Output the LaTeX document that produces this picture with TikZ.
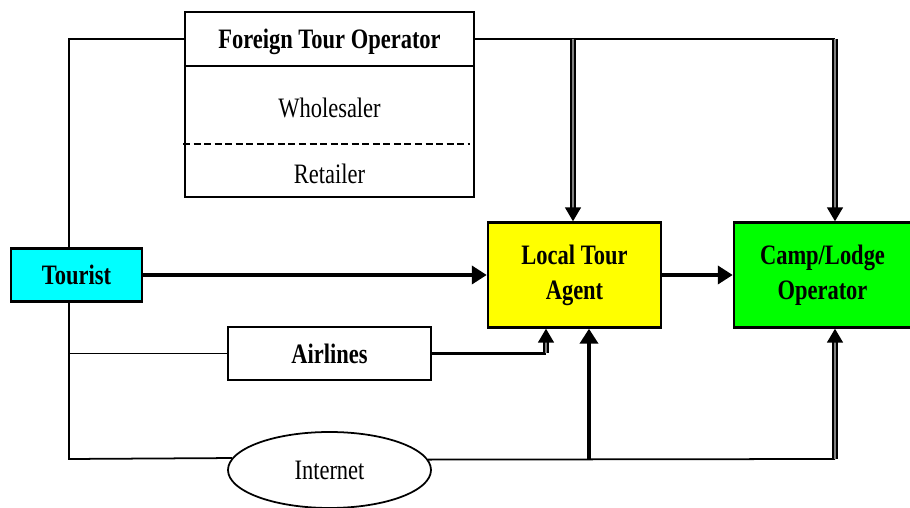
\documentclass[tikz,border=0pt]{standalone}
\usepackage{fontspec}
\setmainfont{Liberation Serif}[FakeStretch=0.8]
\usetikzlibrary{arrows.meta,shapes.geometric}
\definecolor{touristcyan}{RGB}{0,255,255}
\definecolor{agentyellow}{RGB}{255,255,0}
\definecolor{campgreen}{RGB}{0,255,0}
\tikzset{
  box/.style={draw, line width=1.4pt, align=center, inner sep=0pt,
    font=\bfseries\fontsize{16}{20}\selectfont},
  wire/.style={line width=1pt},
  flow/.style={line width=2.2pt, -{Triangle[length=0.3cm,width=0.36cm]}},
  feed/.style={line width=1pt, double=gray, double distance=1.3pt,
    -{Triangle[length=0.28cm,width=0.32cm]}},
}
\begin{document}
\begin{tikzpicture}[font=\fontsize{16}{20}\selectfont]
  \useasboundingbox (0,0) rectangle (18.2,10.16);

  \node (fto)     [box, minimum width=5.78cm, minimum height=3.70cm] at (6.59,8.07) {};
  \node (ftotext) [font=\bfseries\fontsize{16}{20}\selectfont] at (6.59,9.32) {Foreign Tour Operator};
  \node (whole)   at (6.59,8.00) {Wholesaler};
  \node (retail)  at (6.59,6.68) {Retailer};
  \node (tourist) [box, fill=touristcyan, minimum width=2.62cm, minimum height=1.06cm] at (1.53,4.66) {Tourist};
  \node (lta)     [box, fill=agentyellow, minimum width=3.46cm, minimum height=2.10cm] at (11.49,4.66) {Local Tour\\Agent};
  \node (camp)    [box, fill=campgreen, minimum width=3.54cm, minimum height=2.10cm] at (16.45,4.66) {Camp/Lodge\\Operator};
  \node (air)     [box, line width=1pt, minimum width=4.06cm, minimum height=1.06cm] at (6.59,3.09) {Airlines};
  \node (net)     [draw, ellipse, line width=1pt, minimum width=4.06cm, minimum height=1.52cm, inner sep=0pt] at (6.59,0.76) {Internet};

  \coordinate (tl) at (1.38,9.38);
  \coordinate (bl) at (1.38,0.98);
  \coordinate (ta) at (11.46,9.38);
  \coordinate (tr) at (16.70,9.38);
  \coordinate (bm) at (11.78,0.98);
  \coordinate (br) at (16.70,0.98);
  \coordinate (ak) at (10.92,3.09);

  % inside the foreign tour operator
  \draw [wire] (fto.west |- 0,8.84) -- (fto.east |- 0,8.84);
  \draw [line width=1.6pt, dash pattern=on 4pt off 2pt] (3.66,7.28) -- (9.40,7.28);

  % left bus
  \draw [wire] (fto.west |- tl) -- (tl) -- (tl |- tourist.north);
  \draw [wire] (tl |- tourist.south) -- (bl) -- (net.173.5);
  \draw [wire] (tl |- air.west) -- (air.west);

  % top bus
  \draw [wire] (fto.east |- tl) -- (tr);
  \draw [feed] (ta) -- (lta.north -| ta);
  \draw [feed] (tr) -- (camp.north -| tr);

  % bottom bus
  \draw [wire] (net.6.5) -- (br);
  \draw [flow] (bm) -- (lta.south -| bm);
  \draw [feed] (br) -- (camp.south -| br);

  \draw [line width=1.6pt] (air.east) -- (ak);
  \draw [feed] (ak) -- (lta.south -| ak);

  \draw [flow] (tourist) -- (lta);
  \draw [flow] (lta) -- (camp);
\end{tikzpicture}
\end{document}
